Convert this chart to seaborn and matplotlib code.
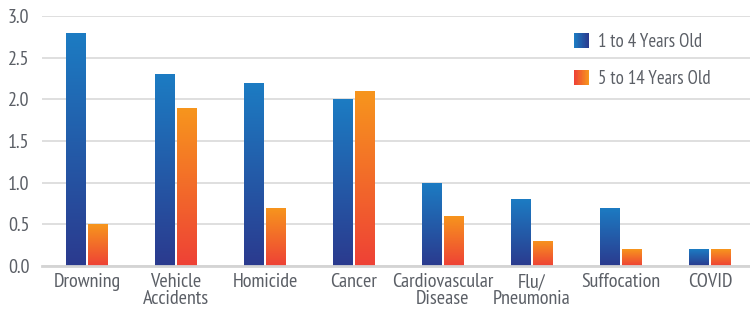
import numpy as np
import pandas as pd
import matplotlib
matplotlib.use("Agg")
import matplotlib.pyplot as plt
import seaborn as sns
from matplotlib.colors import LinearSegmentedColormap
from matplotlib.patches import Rectangle
from matplotlib.legend_handler import HandlerBase
from matplotlib import font_manager

categories = ["Drowning", "Vehicle\nAccidents", "Homicide", "Cancer",
              "Cardiovascular\nDisease", "Flu/\nPneumonia", "Suffocation", "COVID"]
series_names = ["1 to 4 Years Old", "5 to 14 Years Old"]
age_1_4 = [2.8, 2.3, 2.2, 2.0, 1.0, 0.8, 0.7, 0.2]
age_5_14 = [0.5, 1.9, 0.7, 2.1, 0.6, 0.3, 0.2, 0.2]
yticks = [0.0, 0.5, 1.0, 1.5, 2.0, 2.5, 3.0]

df = pd.DataFrame({
    "cause": categories * 2,
    "group": [series_names[0]] * len(categories) + [series_names[1]] * len(categories),
    "rate": age_1_4 + age_5_14,
})

sns.set_theme(style="white")
avail = {f.name for f in font_manager.fontManager.ttflist}
fam = "DejaVu Sans"
for cand in ["PT Sans Narrow", "Asap Condensed", "Roboto Condensed",
             "Fira Sans Condensed", "Archivo Narrow", "Liberation Sans Narrow"]:
    if cand in avail:
        fam = cand
        break
plt.rcParams["font.family"] = [fam, "DejaVu Sans"]

FS = 14.5
LFS = 13.5
TXT = "#5b5f66"
blue_top, blue_bot = "#1c7cc3", "#2b3a8e"
orange_top, orange_bot = "#f7961d", "#ee4136"
cmaps = [LinearSegmentedColormap.from_list("b", [blue_bot, blue_top]),
         LinearSegmentedColormap.from_list("o", [orange_bot, orange_top])]

fig = plt.figure(figsize=(7.5, 3.18), dpi=100)
ax = fig.add_axes([0.056, 0.1635, 0.944, 0.7865])

sns.barplot(data=df, x="cause", y="rate", hue="group", ax=ax,
            palette=[blue_top, orange_top], width=0.49, gap=0.1,
            legend=False, saturation=1)

# gradient fill for each bar
grad = np.linspace(0, 1, 256).reshape(-1, 1)
n = len(categories)
for i, p in enumerate(list(ax.patches)):
    cm = cmaps[0] if i < n else cmaps[1]
    x0, y0 = p.get_x(), p.get_y()
    w, h = p.get_width(), p.get_height()
    if h <= 0:
        continue
    im = ax.imshow(grad, cmap=cm, aspect="auto", origin="lower",
                   extent=[x0, x0 + w, y0, y0 + h], zorder=p.get_zorder() + 0.1,
                   interpolation="bilinear")
    im.set_clip_path(p)
    p.set_edgecolor("none")

ax.set_xlim(-0.505, 7.45)
ax.set_ylim(0, 3.0)

ax.set_yticks(yticks)
ax.set_yticklabels([f"{v:.1f}" for v in yticks])
ax.yaxis.grid(True, color="#dcdcdc", linewidth=1.3)
ax.set_axisbelow(True)
for s in ["top", "right", "left"]:
    ax.spines[s].set_visible(False)
ax.spines["bottom"].set_color("#d4d4d4")
ax.spines["bottom"].set_linewidth(2)
ax.tick_params(axis="both", length=0, labelsize=FS, colors=TXT, pad=5)
ax.tick_params(axis="y", pad=9)
ax.set_xlabel("")
ax.set_ylabel("")
for lab in ax.get_xticklabels():
    lab.set_linespacing(0.95)


class GradHandler(HandlerBase):
    def __init__(self, c_left, c_right):
        super().__init__()
        self.cm = LinearSegmentedColormap.from_list("g", [c_left, c_right])

    def create_artists(self, legend, orig_handle, xdescent, ydescent,
                       width, height, fontsize, trans):
        k = 20
        side = 11
        x0 = -xdescent + (width - side) / 2
        y0 = -ydescent + (height - side) / 2
        arts = []
        for j in range(k):
            r = Rectangle((x0 + side * j / k, y0), side / k * 1.05, side,
                          facecolor=self.cm(j / (k - 1)), edgecolor="none",
                          transform=trans)
            arts.append(r)
        return arts


h1 = Rectangle((0, 0), 1, 1)
h2 = Rectangle((0, 0), 1, 1)
leg = ax.legend([h1, h2], series_names,
                handler_map={h1: GradHandler(blue_top, blue_bot),
                             h2: GradHandler(orange_bot, orange_top)},
                loc="upper left", bbox_to_anchor=(574 / 750, 1 - 33 / 318),
                bbox_transform=fig.transFigure,
                frameon=False, fontsize=LFS, labelspacing=1.02,
                handlelength=0.8, handletextpad=0.48, borderaxespad=0,
                borderpad=0)
for t in leg.get_texts():
    t.set_color(TXT)

fig.savefig("out.png", dpi=100)
